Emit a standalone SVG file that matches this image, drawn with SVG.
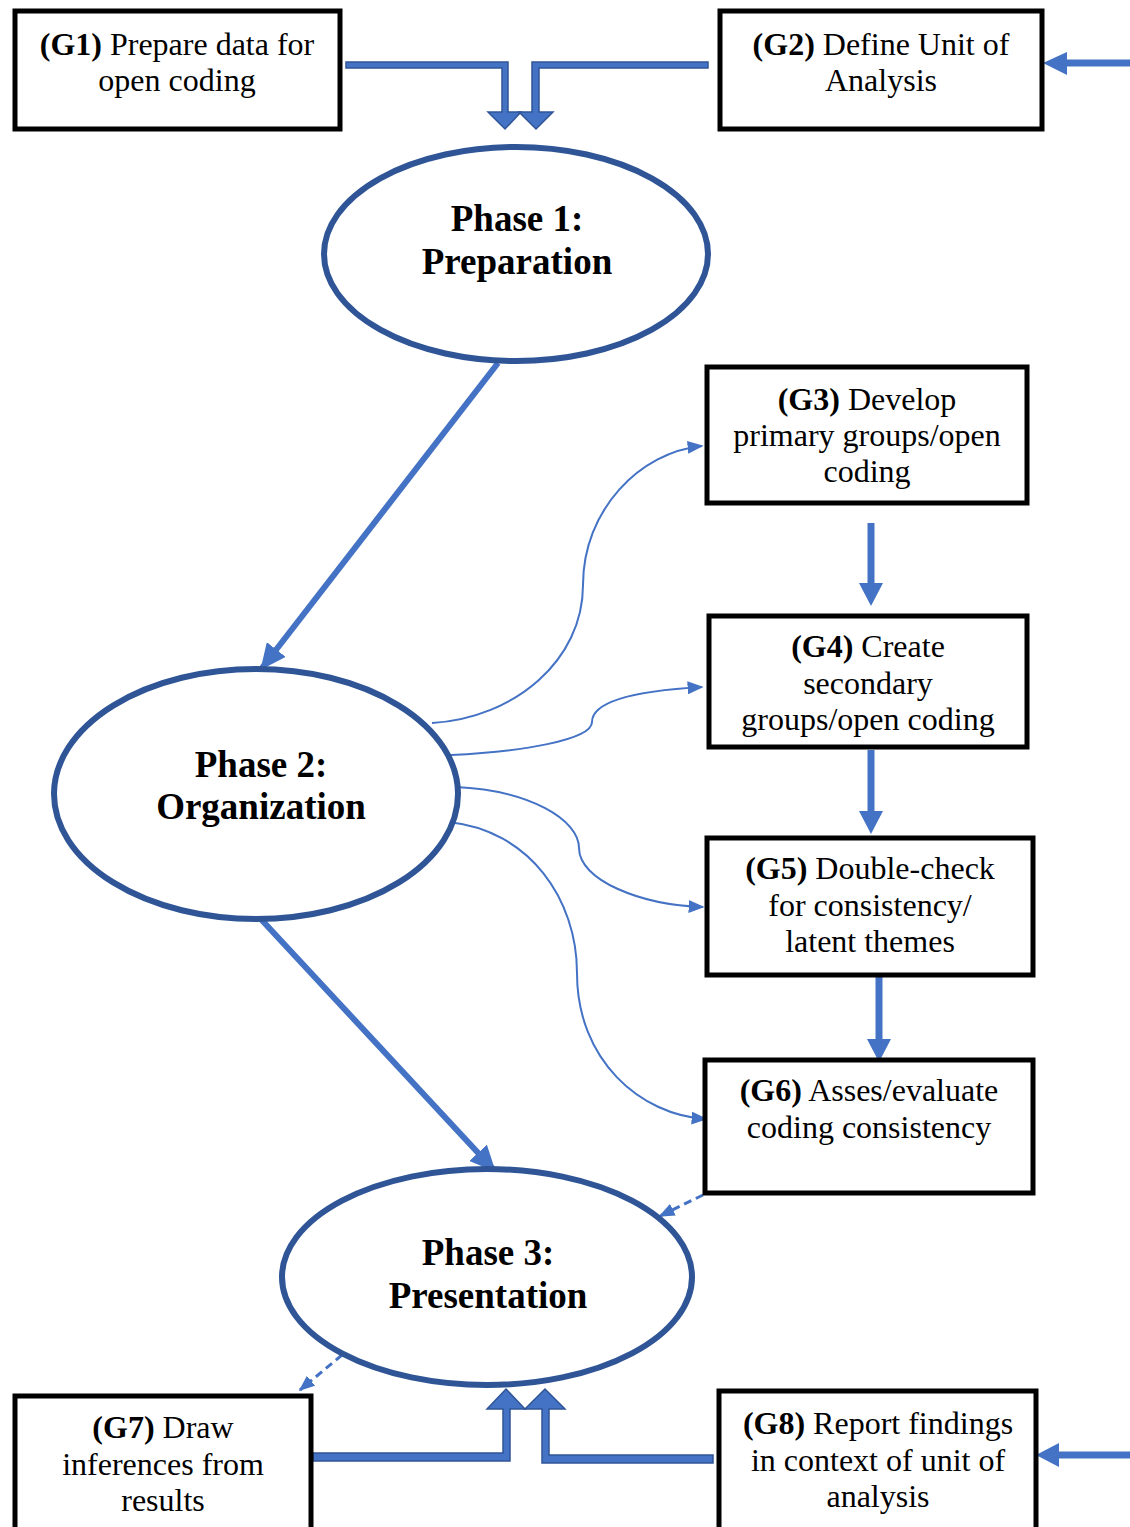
<svg xmlns="http://www.w3.org/2000/svg" width="1130" height="1527" viewBox="0 0 1130 1527">
<style>
.box{fill:#fff;stroke:#000;stroke-width:5}
.ell{fill:#fff;stroke:#2F5597;stroke-width:6}
.t{font-family:"Liberation Serif","Times New Roman",serif;font-size:32px;fill:#000;text-anchor:middle}
.b{font-weight:bold}
.pt{font-family:"Liberation Serif","Times New Roman",serif;font-size:37px;font-weight:bold;fill:#000;text-anchor:middle}
.thick{stroke:#4472C4;stroke-width:6;fill:none}
.vert{stroke:#4472C4;stroke-width:7;fill:none}
.thin{stroke:#4472C4;stroke-width:2;fill:none}
.dash{stroke:#4472C4;stroke-width:3;fill:none;stroke-dasharray:8 5}
.head{fill:#4472C4}
.bent{fill:#4472C4;stroke:#2F5597;stroke-width:1.5;stroke-linejoin:miter}
</style>
<defs>
<marker id="sm" viewBox="0 0 10 10" refX="9" refY="5" markerWidth="16" markerHeight="13" orient="auto" markerUnits="userSpaceOnUse" preserveAspectRatio="none">
<path d="M0,0 L10,5 L0,10 Z" fill="#4472C4"/>
</marker>
<marker id="big" viewBox="0 0 10 10" refX="9" refY="5" markerWidth="26" markerHeight="24" orient="auto" markerUnits="userSpaceOnUse" preserveAspectRatio="none">
<path d="M0,0 L10,5 L0,10 Z" fill="#4472C4"/>
</marker>
</defs>

<g id="connectors">
  <polygon class="bent" points="346,62 508,62 508,112 521,112 505,129 488,112 502,112 502,68 346,68"/>
  <polygon class="bent" points="708,62 532,62 532,112 519,112 536,129 553,112 539,112 539,68 708,68"/>
  <polygon class="bent" points="313,1453 503,1453 503,1409 487,1409 506,1389 525,1409 510,1409 510,1461 313,1461"/>
  <polygon class="bent" points="713,1455 549,1455 549,1409 565,1409 545,1389 525,1409 542,1409 542,1463 713,1463"/>
  <line class="vert" x1="1130" y1="63" x2="1062" y2="63"/>
  <polygon class="head" points="1043,63 1067,52 1067,75"/>
  <line class="vert" x1="1130" y1="1455" x2="1055" y2="1455"/>
  <polygon class="head" points="1036,1455 1059,1443 1059,1467"/>
  <line class="thick" x1="498" y1="363" x2="262" y2="668" marker-end="url(#big)"/>
  <line class="thick" x1="258" y1="916" x2="494" y2="1170" marker-end="url(#big)"/>
  <line class="vert" x1="871" y1="523" x2="871" y2="585"/>
  <polygon class="head" points="859,583 883,583 871,606"/>
  <line class="vert" x1="871" y1="750" x2="871" y2="813"/>
  <polygon class="head" points="859,811 883,811 871,834"/>
  <line class="vert" x1="879" y1="977" x2="879" y2="1041"/>
  <polygon class="head" points="867,1039 891,1039 879,1062"/>
  <path class="thin" d="M432,723 C515,718 583,660 583,585 C583,510 640,452 702,446" marker-end="url(#sm)"/>
  <path class="thin" d="M451,755 C520,752 592,740 592,722 C592,698 650,690 702,687" marker-end="url(#sm)"/>
  <path class="thin" d="M455,787 C530,790 579,820 579,848 C579,880 640,905 703,907" marker-end="url(#sm)"/>
  <path class="thin" d="M448,822 C530,830 577,900 577,973 C577,1060 640,1115 706,1119" marker-end="url(#sm)"/>
  <line class="dash" x1="703" y1="1195" x2="660" y2="1216" marker-end="url(#sm)"/>
  <line class="dash" x1="342" y1="1355" x2="300" y2="1390" marker-end="url(#sm)"/>
</g>

<g id="G1">
  <rect class="box" x="15" y="11" width="325" height="118"/>
  <text class="t" x="177" y="55"><tspan class="b">(G1)</tspan> Prepare data for</text>
  <text class="t" x="177" y="91">open coding</text>
</g>
<g id="G2">
  <rect class="box" x="720" y="11" width="322" height="118"/>
  <text class="t" x="881" y="55"><tspan class="b">(G2)</tspan> Define Unit of</text>
  <text class="t" x="881" y="91">Analysis</text>
</g>
<g id="phase1">
  <ellipse class="ell" cx="516" cy="254" rx="192" ry="107"/>
  <text class="pt" x="517" y="231">Phase 1:</text>
  <text class="pt" x="517" y="274">Preparation</text>
</g>
<g id="G3">
  <rect class="box" x="707" y="367" width="320" height="136"/>
  <text class="t" x="867" y="410"><tspan class="b">(G3)</tspan> Develop</text>
  <text class="t" x="867" y="446">primary groups/open</text>
  <text class="t" x="867" y="482">coding</text>
</g>
<g id="G4">
  <rect class="box" x="709" y="616" width="318" height="131"/>
  <text class="t" x="868" y="657"><tspan class="b">(G4)</tspan> Create</text>
  <text class="t" x="868" y="694">secondary</text>
  <text class="t" x="868" y="730">groups/open coding</text>
</g>
<g id="phase2">
  <ellipse class="ell" cx="256" cy="794" rx="202" ry="125"/>
  <text class="pt" x="261" y="777">Phase 2:</text>
  <text class="pt" x="261" y="819">Organization</text>
</g>
<g id="G5">
  <rect class="box" x="707" y="838" width="326" height="137"/>
  <text class="t" x="870" y="879"><tspan class="b">(G5)</tspan> Double-check</text>
  <text class="t" x="870" y="916">for consistency/</text>
  <text class="t" x="870" y="952">latent themes</text>
</g>
<g id="G6">
  <rect class="box" x="705" y="1060" width="328" height="133"/>
  <text class="t" x="869" y="1101"><tspan class="b">(G6)</tspan> Asses/evaluate</text>
  <text class="t" x="869" y="1138">coding consistency</text>
</g>
<g id="phase3">
  <ellipse class="ell" cx="487" cy="1277" rx="205" ry="108"/>
  <text class="pt" x="488" y="1265">Phase 3:</text>
  <text class="pt" x="488" y="1308">Presentation</text>
</g>
<g id="G7">
  <rect class="box" x="15" y="1396" width="296" height="140"/>
  <text class="t" x="163" y="1438"><tspan class="b">(G7)</tspan> Draw</text>
  <text class="t" x="163" y="1475">inferences from</text>
  <text class="t" x="163" y="1511">results</text>
</g>
<g id="G8">
  <rect class="box" x="719" y="1391" width="317" height="140"/>
  <text class="t" x="878" y="1434"><tspan class="b">(G8)</tspan> Report findings</text>
  <text class="t" x="878" y="1471">in context of unit of</text>
  <text class="t" x="878" y="1507">analysis</text>
</g>
</svg>
